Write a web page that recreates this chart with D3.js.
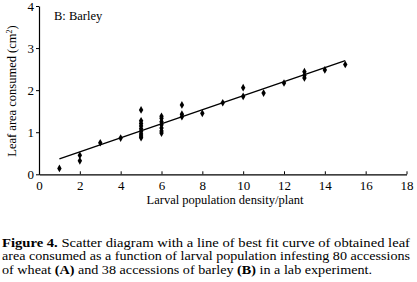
<!DOCTYPE html>
<html><head><meta charset="utf-8">
<script src="https://cdn.jsdelivr.net/npm/d3@7"></script>
<style>body{margin:0;background:#fff}svg{display:block}</style>
</head><body>
<script>
const larvae = [1,2,2,3,4,5,5,5,5,5,5,5,5,5,6,6,6,6,6,6,6,7,7,7,8,9,10,10,11,12,13,13,13,14,15];
const leafArea = [0.14,0.45,0.32,0.75,0.86,1.53,1.27,1.21,1.15,1.08,1.02,0.96,0.91,0.87,1.38,1.33,1.25,1.18,1.1,1.03,0.98,1.65,1.43,1.37,1.45,1.70,2.06,1.85,1.93,2.17,2.44,2.35,2.29,2.48,2.61];
const fitX = [1,15];
const fitY = [0.365,2.70];
const xTicks = [0,2,4,6,8,10,12,14,16,18];
const yTicks = [0,1,2,3,4];
const panelLabel = "B: Barley";
const xTitle = "Larval population density/plant";
const caption = [
  [{t:"Figure 4.",b:true},{t:" Scatter diagram with a line of best fit curve of obtained leaf"}],
  [{t:"area consumed as a function of larval population infesting 80 accessions"}],
  [{t:"of wheat "},{t:"(A)",b:true},{t:" and 38 accessions of barley "},{t:"(B)",b:true},{t:" in a lab experiment."}]
];

const FF = '"Liberation Serif"';
const W=417,H=282;
const svg=d3.select("body").append("svg").attr("width",W).attr("height",H);
const x=d3.scaleLinear().domain([0,18]).range([39,406.5]);
const y=d3.scaleLinear().domain([0,4]).range([174.3,6]);

const xa=svg.append("g").attr("transform",`translate(0,${y(0)})`)
  .call(d3.axisBottom(x).tickValues(xTicks).tickFormat(d3.format("d")).tickSizeInner(-3).tickSizeOuter(0).tickPadding(6));
const ya=svg.append("g").attr("transform",`translate(${x(0)},0)`)
  .call(d3.axisLeft(y).tickValues(yTicks).tickFormat(d3.format("d")).tickSizeInner(3).tickSizeOuter(0).tickPadding(2));
[xa,ya].forEach(a=>{a.selectAll("text").attr("fill","#000").style("font-family",FF).style("font-size","13px");});
xa.selectAll("text").attr("dy","0.72em");
svg.selectAll(".domain").attr("stroke","#000").attr("stroke-width",1.2);
svg.selectAll(".tick line").attr("stroke","#000");

svg.append("line").attr("x1",x(fitX[0])).attr("y1",y(fitY[0])).attr("x2",x(fitX[1])).attr("y2",y(fitY[1]))
  .attr("stroke","#000").attr("stroke-width",1.3);

const sym=d3.symbol().type(d3.symbolDiamond).size(17);
svg.append("g").selectAll("path").data(larvae).join("path")
  .attr("d",sym).attr("transform",(d,i)=>`translate(${x(d)},${y(leafArea[i])})`).attr("fill","#000");

svg.append("text").attr("x",54).attr("y",20).style("font-family",FF).style("font-size","12.5px").text(panelLabel);
svg.append("text").attr("x",225).attr("y",204).style("font-family",FF).style("font-size","12.5px").attr("text-anchor","middle").text(xTitle);
const yl=svg.append("text").attr("transform","translate(16,91) rotate(-90)").style("font-family",FF).style("font-size","12.5px").attr("text-anchor","middle");
yl.append("tspan").text("Leaf area consumed (cm");
yl.append("tspan").style("font-size","8px").attr("dy",-4).text("2");
yl.append("tspan").attr("dy",4).text(")");

const base=[246.5,260,273.5];
const widths=[408,408,370];
caption.forEach((line,i)=>{
  const t=svg.append("text").attr("x",2).attr("y",base[i]).style("font-family",FF).style("font-size","12.5px")
    .attr("textLength",widths[i]).attr("lengthAdjust","spacingAndGlyphs");
  line.forEach(s=>t.append("tspan").attr("font-weight",s.b?"bold":null).text(s.t));
});
</script>
</body></html>
